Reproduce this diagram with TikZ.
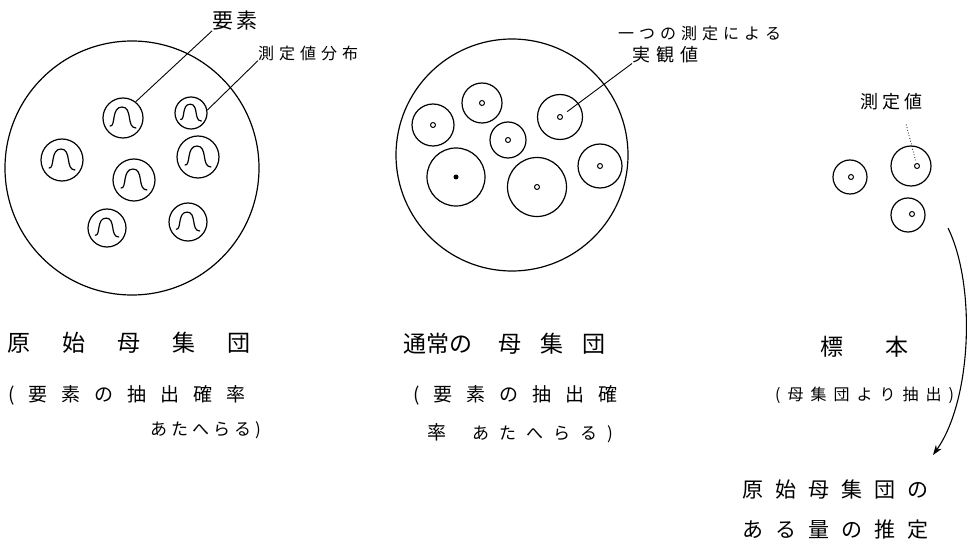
\documentclass[tikz,border=0pt]{standalone}
\usepackage{fontspec}
\newfontfamily\jp{Noto Sans CJK JP}
\usetikzlibrary{arrows.meta,calc}
\makeatletter
\newcommand\spacedtxt[2]{\def\sp@gap{\hspace{#1}}\sp@first#2\@nil}
\def\sp@first#1{#1\sp@next}
\def\sp@next#1{\ifx#1\@nil\else\sp@gap#1\expandafter\sp@next\fi}
\makeatother
\tikzset{
  bigc/.style={circle, draw, line width=1.2pt, inner sep=0pt},
  elem/.style={circle, draw, line width=1.2pt, inner sep=0pt},
  odot/.style={circle, draw, line width=1pt, inner sep=0pt, minimum size=5pt},
  fdot/.style={circle, fill, inner sep=0pt, minimum size=5pt},
  lbl/.style={inner sep=0pt, anchor=west, text=black},
  leader/.style={line width=0.9pt},
  bellcurve/.pic={\draw[line width=1.2pt, line cap=round]
     (-13,8) .. controls (-7,9) and (-12,-11) .. (-1,-11)
     .. controls (10,-11) and (3,10) .. (13,10);}
}
\begin{document}
\begin{tikzpicture}[x=1pt, y=-1pt]
\fill[white] (0,0) rectangle (974,545);
\useasboundingbox (0,0) rectangle (974,545);

% ---------- population 1 ----------
\node[bigc, minimum size=254pt] (P1) at (132,168) {};
\node[elem, minimum size=40pt] (e1) at (123,118) {};
\node[elem, minimum size=32pt] (e2) at (191,113) {};
\node[elem, minimum size=42pt] (e3) at (62,160) {};
\node[elem, minimum size=42pt] (e4) at (198,157) {};
\node[elem, minimum size=42pt] (e5) at (134,180) {};
\node[elem, minimum size=38pt] (e6) at (107,228) {};
\node[elem, minimum size=38pt] (e7) at (188,222) {};
\pic at (e1) {bellcurve};
\pic[scale=0.8] at (e2) {bellcurve};
\pic at (e3) {bellcurve};
\pic at (e4) {bellcurve};
\pic at (e5) {bellcurve};
\pic[scale=0.9] at (e6) {bellcurve};
\pic[scale=0.9] at (e7) {bellcurve};

\node[lbl, font=\jp\fontsize{21}{24}\selectfont] (lyoso) at (212,21) {\spacedtxt{3pt}{要素}};
\node[lbl, font=\jp\fontsize{16}{20}\selectfont] (lbunpu) at (258,53) {\spacedtxt{5pt}{測定値分布}};
\draw[leader] (lyoso.south west) -- (e1.52);
\draw[leader] (lbunpu.south west) -- (e2.10);

% ---------- population 2 ----------
\node[bigc, minimum size=232pt] (P2) at (512,155) {};
\node[elem, minimum size=42pt] (o1) at (433,125) {};
\node[elem, minimum size=40pt] (o2) at (482,103) {};
\node[elem, minimum size=45pt] (o3) at (560,117) {};
\node[elem, minimum size=36pt] (o4) at (508,140) {};
\node[elem, minimum size=58pt] (o5) at (456,177) {};
\node[elem, minimum size=59pt] (o6) at (537,187) {};
\node[elem, minimum size=44pt] (o7) at (600,166) {};
\node[odot] (od1) at (o1) {};
\node[odot] (od2) at (o2) {};
\node[odot] (od3) at (o3) {};
\node[odot] (od4) at (o4) {};
\node[fdot] (od5) at (o5) {};
\node[odot] (od6) at (o6) {};
\node[odot] (od7) at (o7) {};

\node[lbl, font=\jp\fontsize{16}{20}\selectfont] (lhitotsu) at (618,33) {\spacedtxt{5pt}{一つの測定による}};
\node[lbl, font=\jp\fontsize{18}{22}\selectfont] (ljitsu) at (632,55) {\spacedtxt{6pt}{実観値}};
\draw[leader, shorten >=6pt] (ljitsu.south west) -- (od3);

% ---------- sample ----------
\node[elem, minimum size=34pt] (s1) at (850,177) {};
\node[elem, minimum size=40pt] (s2) at (911,166) {};
\node[elem, minimum size=34pt] (s3) at (908,215) {};
\node[odot] (sd1) at (851,177) {};
\node[odot] (sd2) at (917,166) {};
\node[odot] (sd3) at (912,214) {};
\node[lbl, font=\jp\fontsize{18}{22}\selectfont] (lsv) at (860,102) {\spacedtxt{4pt}{測定値}};
\draw[dotted, line width=0.8pt, shorten >=3pt] ($(lsv.south)+(15,14)$) -- (sd2);

% ---------- captions ----------
\node[lbl, font=\jp\fontsize{23}{26}\selectfont] (c1a) at (7,343) {\spacedtxt{32pt}{原始母集団}};
\node[lbl, font=\jp\fontsize{19}{23}\selectfont] (c1b) at (8,395) {\spacedtxt{14pt}{(要素の抽出確率}};
\node[lbl, font=\jp\fontsize{17}{21}\selectfont] (c1c) at (150,430) {\spacedtxt{4pt}{あたへらる)}};

\node[lbl, font=\jp\fontsize{23}{26}\selectfont] (c2a) at (403,344) {通常の\hspace{26pt}\spacedtxt{19pt}{母集団}};
\node[lbl, font=\jp\fontsize{19}{23}\selectfont] (c2b) at (413,395) {\spacedtxt{14pt}{(要素の抽出確}};
\node[lbl, font=\jp\fontsize{17}{21}\selectfont] (c2c) at (427,433) {{\fontsize{19}{23}\selectfont 率}\hspace{26pt}\spacedtxt{10pt}{あたへらる)}};

\node[lbl, font=\jp\fontsize{23}{26}\selectfont] (c3a) at (820,347) {\spacedtxt{42pt}{標本}};
\node[lbl, font=\jp\fontsize{16}{20}\selectfont] (c3b) at (775,395) {\spacedtxt{7pt}{(母集団より抽出)}};

\node[lbl, font=\jp\fontsize{21}{25}\selectfont] (e4a) at (742,490) {\spacedtxt{12pt}{原始母集団の}};
\node[lbl, font=\jp\fontsize{21}{25}\selectfont] (e4b) at (742,530) {\spacedtxt{12pt}{ある量の推定}};

\coordinate (arrS) at (948,228);
\coordinate (arrE) at (933,455);
\draw[line width=1.1pt, -{Stealth[length=10pt,width=7pt]}] (arrS) .. controls (976,285) and (972,400) .. (arrE);
\end{tikzpicture}
\end{document}
